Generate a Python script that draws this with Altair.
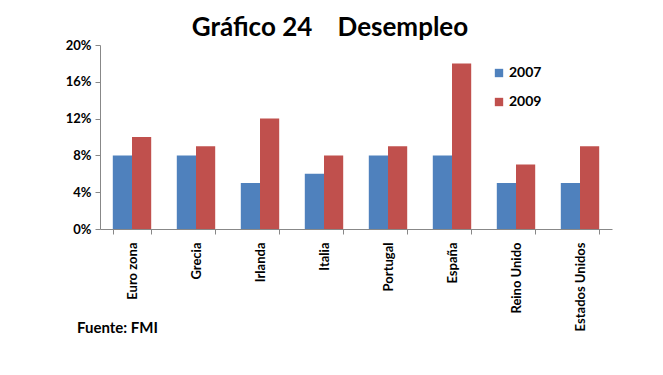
import altair as alt
import pandas as pd

countries = ["Euro zona", "Grecia", "Irlanda", "Italia", "Portugal", "España", "Reino Unido", "Estados Unidos"]
years = ["2007", "2009"]
v2007 = [0.08, 0.08, 0.05, 0.06, 0.08, 0.08, 0.05, 0.05]
v2009 = [0.10, 0.09, 0.12, 0.08, 0.09, 0.18, 0.07, 0.09]
y_ticks = [0, 0.04, 0.08, 0.12, 0.16, 0.20]
colors = ["#4F81BD", "#C0504D"]

rows = []
for c, a, b in zip(countries, v2007, v2009):
    rows.append({"pais": c, "anio": "2007", "valor": a})
    rows.append({"pais": c, "anio": "2009", "valor": b})
df = pd.DataFrame(rows)

FONT = "Lato"
NBSP = "\u00a0"

bars = alt.Chart(df).mark_bar().encode(
    x=alt.X("pais:N", sort=countries, title=None,
            scale=alt.Scale(paddingInner=0.4, paddingOuter=0.2),
            axis=alt.Axis(labelAngle=-90, labelAlign="right", labelBaseline="middle",
                          labelFont=FONT, labelFontSize=13, labelFontWeight="bold",
                          labelColor="black", labelPadding=8,
                          tickBand="extent", tickSize=5, tickColor="#888",
                          domainColor="#888")),
    xOffset=alt.XOffset("anio:N", sort=years),
    y=alt.Y("valor:Q", title=None,
            scale=alt.Scale(domain=[0, 0.2], nice=False),
            axis=alt.Axis(values=y_ticks, format=".0%", grid=False,
                          labelFont=FONT, labelFontSize=13, labelFontWeight="bold",
                          labelColor="black", labelPadding=4,
                          tickSize=5, tickColor="#888", domainColor="#888")),
    color=alt.Color("anio:N", sort=years, title=None,
                    scale=alt.Scale(domain=years, range=colors),
                    legend=alt.Legend(orient="none", legendX=392, legendY=21,
                                      symbolType="square", symbolSize=70,
                                      symbolStrokeWidth=0,
                                      labelFont=FONT, labelFontSize=14,
                                      labelFontWeight="bold", labelColor="black",
                                      rowPadding=15, labelOffset=3)),
)

source = alt.Chart(pd.DataFrame({"t": ["Fuente: FMI"]})).mark_text(
    font=FONT, fontSize=15, fontWeight="bold", align="left", baseline="alphabetic",
    color="black"
).encode(text="t:N", x=alt.value(-23), y=alt.value(288))

chart = alt.layer(bars, source).properties(
    width=512, height=184,
    autosize=alt.AutoSizeParams(type="none"),
    padding={"left": 92, "top": 37, "right": 43, "bottom": 138},
    title=alt.TitleParams("Gráfico 24" + NBSP * 4 + "Desempleo", font=FONT, fontSize=26,
                          fontWeight="bold", color="black", anchor="middle",
                          dx=-26, offset=-2),
).configure_view(stroke=None)

chart.save("out.html", embed_options={"renderer": "svg", "actions": False})
